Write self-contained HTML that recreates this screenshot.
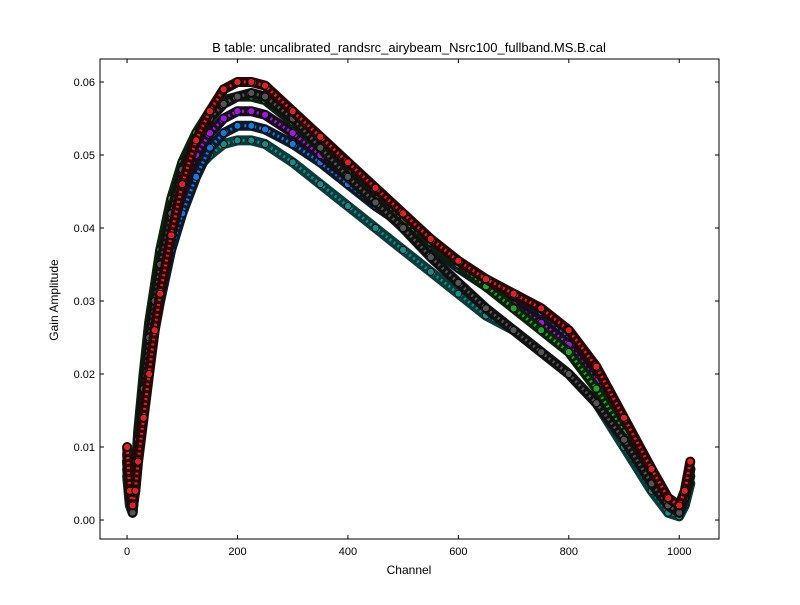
<!DOCTYPE html>
<html><head><meta charset="utf-8"><style>
body{margin:0;background:#fff;}
svg text{font-family:"Liberation Sans",sans-serif;}
</style></head><body>
<svg id="chart" width="800" height="600" viewBox="0 0 800 600">
<rect width="800" height="600" fill="#fff"/>
<text x="409" y="52" font-size="13" text-anchor="middle">B table: uncalibrated_randsrc_airybeam_Nsrc100_fullband.MS.B.cal</text>
<g id="series"></g>
<g id="axes"></g>
<text x="409" y="574" font-size="12" text-anchor="middle">Channel</text>
<text x="58" y="300" font-size="12" text-anchor="middle" transform="rotate(-90 58 300)">Gain Amplitude</text>
</svg>
<script>
const channels=[0,5,10,15,20,30,40,50,60,80,100,125,150,175,200,225,250,300,350,400,450,500,550,600,650,700,750,800,850,900,950,980,1000,1010,1020];
const tealSeries=[0.006,0.002,0.001,0.005,0.010,0.017,0.023,0.028,0.032,0.039,0.044,0.048,0.050,0.0515,0.052,0.052,0.0515,0.049,0.046,0.043,0.040,0.037,0.034,0.031,0.028,0.026,0.023,0.020,0.016,0.010,0.004,0.001,0.0005,0.002,0.005];
const blueSeries=[0.007,0.003,0.0015,0.004,0.009,0.015,0.021,0.026,0.030,0.037,0.042,0.047,0.051,0.053,0.054,0.054,0.0535,0.0515,0.049,0.046,0.043,0.0405,0.0375,0.0345,0.032,0.0305,0.0285,0.025,0.020,0.013,0.006,0.002,0.001,0.003,0.007];
const purpleSeries=[0.008,0.003,0.0015,0.005,0.010,0.016,0.022,0.027,0.032,0.039,0.045,0.050,0.053,0.055,0.056,0.056,0.0555,0.053,0.050,0.047,0.044,0.041,0.038,0.035,0.032,0.0295,0.027,0.024,0.019,0.013,0.006,0.002,0.001,0.003,0.007];
const greenSeries=[0.008,0.003,0.001,0.006,0.012,0.020,0.027,0.032,0.037,0.044,0.049,0.053,0.056,0.0575,0.058,0.058,0.0575,0.0545,0.051,0.0475,0.044,0.041,0.038,0.035,0.032,0.029,0.026,0.023,0.018,0.012,0.006,0.002,0.001,0.003,0.006];
const blackSeries=[0.009,0.003,0.001,0.005,0.011,0.018,0.025,0.030,0.035,0.042,0.048,0.052,0.055,0.057,0.058,0.0585,0.058,0.055,0.051,0.047,0.0435,0.040,0.036,0.0325,0.029,0.026,0.023,0.020,0.016,0.011,0.005,0.002,0.001,0.003,0.007];
const redSeries=[0.010,0.004,0.002,0.004,0.008,0.014,0.020,0.026,0.031,0.039,0.046,0.052,0.056,0.059,0.060,0.060,0.0595,0.056,0.0525,0.049,0.0455,0.042,0.0385,0.0355,0.033,0.031,0.029,0.026,0.021,0.014,0.007,0.003,0.002,0.004,0.008];
const xTicks=[0,200,400,600,800,1000];
const yTicks=[0,0.01,0.02,0.03,0.04,0.05,0.06];
const yTickLabels=["0.00","0.01","0.02","0.03","0.04","0.05","0.06"];

const L=100,R=719,T=59,B=539;
const xMin=-49,xMax=1072,yMin=-0.0026,yMax=0.06315;
function xs(v){return L+(v-xMin)/(xMax-xMin)*(R-L);}
function ys(v){return B-(v-yMin)/(yMax-yMin)*(B-T);}
const NS="http://www.w3.org/2000/svg";
const sg=document.getElementById('series');
const list=[[tealSeries,'#0b3b3b','#1a8a8a','series-teal'],[blueSeries,'#0a1a2a','#1f77d4','series-blue'],[purpleSeries,'#1a0a22','#9b1fd0','series-purple'],[greenSeries,'#0a220a','#2ca02c','series-green'],[blackSeries,'#111','#555','series-black'],[redSeries,'#2a0505','#d62728','series-red']];
list.forEach(([vals,dark,col,name])=>{
  const d=vals.map((v,i)=>(i?'L':'M')+xs(channels[i]).toFixed(1)+','+ys(v).toFixed(1)).join(' ');
  const g=document.createElementNS(NS,'g');
  
  
  const p1=document.createElementNS(NS,'path');
  p1.setAttribute('d',d);p1.setAttribute('fill','none');p1.setAttribute('stroke',dark);p1.setAttribute('stroke-width','10');p1.setAttribute('stroke-linejoin','round');p1.setAttribute('stroke-linecap','round');
  
  
  const p2=document.createElementNS(NS,'path');
  p2.setAttribute('d',d);p2.setAttribute('fill','none');p2.setAttribute('stroke',col);p2.setAttribute('stroke-width','3');p2.setAttribute('stroke-dasharray','2 3');
  
  
  g.appendChild(p1);g.appendChild(p2);
  vals.forEach((v,i)=>{
    const c=document.createElementNS(NS,'circle');
    c.setAttribute('cx',xs(channels[i]));c.setAttribute('cy',ys(v));c.setAttribute('r','3.5');
    c.setAttribute('fill',col);c.setAttribute('stroke','#000');c.setAttribute('stroke-width','0.8');
    
    
    g.appendChild(c);
  });
  sg.appendChild(g);
});
const ax=document.getElementById('axes');
let h='<rect x="'+L+'" y="'+T+'" width="'+(R-L)+'" height="'+(B-T)+'" fill="none" stroke="#000" stroke-width="1"/>';
xTicks.forEach(v=>{const x=xs(v);h+='<line x1="'+x+'" y1="'+B+'" x2="'+x+'" y2="'+(B-4)+'" stroke="#000"/><line x1="'+x+'" y1="'+T+'" x2="'+x+'" y2="'+(T+4)+'" stroke="#000"/><text x="'+x+'" y="'+(B+16)+'" font-size="11" text-anchor="middle">'+v+'</text>';});
yTicks.forEach((v,i)=>{const y=ys(v);h+='<line x1="'+L+'" y1="'+y+'" x2="'+(L+4)+'" y2="'+y+'" stroke="#000"/><line x1="'+R+'" y1="'+y+'" x2="'+(R-4)+'" y2="'+y+'" stroke="#000"/><text x="'+(L-5)+'" y="'+(y+4)+'" font-size="11" text-anchor="end">'+yTickLabels[i]+'</text>';});
ax.innerHTML=h;
</script>
</body></html>
